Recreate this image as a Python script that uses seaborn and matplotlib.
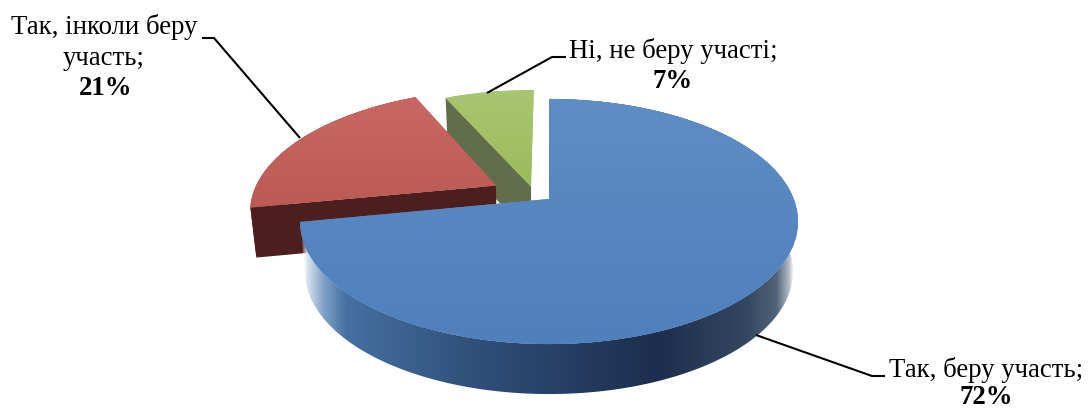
import numpy as np
import matplotlib
matplotlib.use("Agg")
import matplotlib.pyplot as plt
import seaborn as sns
from matplotlib.colors import LinearSegmentedColormap
from matplotlib.patches import Polygon
from matplotlib.transforms import Transform

# ---- data ----
labels = ["Так, беру участь;", "Так, інколи беру участь;", "Ні, не беру участі;"]
values = [72, 21, 7]

# ---- styling ----
flat_colors = ["#5484bf", "#c15e5a", "#9fbf62"]
face_top = ["#5f8dc4", "#c96764", "#a9c671"]
face_bottom = ["#4f80bc", "#bb5a55", "#9bbb59"]
side_colors = ["#2f4f78", "#4c1f1e", "#616d4b"]
blue_wall_stops = [
    (0.000, (1.00, 1.00, 1.00, 0.0)),
    (0.012, (0.85, 0.89, 0.94, 1.0)),
    (0.045, (0.50, 0.63, 0.78, 1.0)),
    (0.090, (0.27, 0.44, 0.63, 1.0)),
    (0.350, (0.19, 0.31, 0.48, 1.0)),
    (0.720, (0.11, 0.18, 0.30, 1.0)),
    (0.900, (0.20, 0.28, 0.38, 1.0)),
    (0.960, (0.32, 0.39, 0.47, 1.0)),
    (0.985, (0.70, 0.74, 0.78, 1.0)),
    (1.000, (1.00, 1.00, 1.00, 0.0)),
]
slice_offsets = [(0.0, 0.0), (-0.2215, 0.116), (-0.075, 0.108)]
CX, CY, AX_, AY_, K = 549.0, 200.0, 244.8, 118.4, 0.1837
DEPTH, SHRINK = 50.0, 0.98
FONT = "Liberation Serif"
FS = 19.3

sns.set_theme(style="white")
plt.rcParams["font.family"] = [FONT, "DejaVu Serif"]


class Perspective(Transform):
    """Tilted-disc projection of pie coordinates onto pixel-like data units."""
    input_dims = output_dims = 2

    def __init__(self, du=0.0, dv=0.0):
        super().__init__()
        self.du, self.dv = du, dv

    def transform_non_affine(self, values):
        p = np.asarray(values, dtype=float)
        u, v = p[:, 0] + self.du, p[:, 1] + self.dv
        w = 1 + K * v
        return np.column_stack([CX + AX_ * u / w, CY - AY_ * v / w])


def lower(pts):
    out = pts.copy()
    out[:, 0] = CX + (out[:, 0] - CX) * SHRINK
    out[:, 1] = out[:, 1] + DEPTH
    return out


fig = plt.figure(figsize=(10.88, 4.10), dpi=100)
ax = fig.add_axes([0, 0, 1, 1])

wedges, _ = ax.pie(values, startangle=90, counterclock=False, colors=flat_colors,
                   wedgeprops=dict(linewidth=0))
ax.set_aspect("auto")
ax.axis("off")

z_side = {0: 6, 1: 3, 2: 1}
z_top = {0: 7, 1: 4, 2: 2}
for i, w in enumerate(wedges):
    proj = Perspective(*slice_offsets[i])
    th = np.radians(np.linspace(w.theta1, w.theta2, 240))
    arc = proj.transform_non_affine(np.column_stack([np.cos(th), np.sin(th)]))
    apex = proj.transform_non_affine(np.array([[0.0, 0.0]]))

    w.set_transform(proj + ax.transData)
    w.set_zorder(z_top[i])

    if i == 0:
        # blue outer wall with its horizontal light-to-dark shading
        wall = Polygon(np.vstack([arc, lower(arc)[::-1]]), closed=True,
                       facecolor="none", edgecolor="none", zorder=z_side[i],
                       transform=ax.transData)
        ax.add_patch(wall)
        x0, x1 = lower(arc)[:, 0].min() - 4, arc[:, 0].max() - 2
        cmap = LinearSegmentedColormap.from_list("wall", blue_wall_stops, N=512)
        img = ax.imshow(np.linspace(0, 1, 512)[None, :], cmap=cmap, aspect="auto",
                        extent=(x0, x1, 410, 0), zorder=z_side[i], interpolation="bilinear")
        img.set_clip_path(wall)
    else:
        # visible cut face of an exploded slice (plus the red slice's rim)
        end = arc[-1:]
        cut = np.vstack([end, apex, lower(apex), lower(end)])
        ax.add_patch(Polygon(cut, closed=True, facecolor=side_colors[i], edgecolor="none",
                             zorder=z_side[i]))
        if i == 1:
            rim = np.vstack([arc, lower(arc)[::-1]])
            ax.add_patch(Polygon(rim, closed=True, facecolor=side_colors[i], edgecolor="none",
                                 zorder=z_side[i]))

    # soft vertical shading on the top face
    outline = np.vstack([arc, apex])
    cm = LinearSegmentedColormap.from_list("f", [face_top[i], face_bottom[i]])
    top = ax.imshow(np.linspace(0, 1, 256)[:, None], cmap=cm, aspect="auto",
                    extent=(outline[:, 0].min() - 3, outline[:, 0].max() + 3,
                            outline[:, 1].max() + 3, outline[:, 1].min() - 3),
                    zorder=z_top[i] + 0.5, interpolation="bilinear")
    top.set_clip_path(w)

ax.set_xlim(0, 1088)
ax.set_ylim(410, 0)

# ---- leader lines ----
line = dict(color="black", lw=1.5, zorder=10, solid_capstyle="butt")
ax.plot([202, 214, 300], [39, 39, 139], **line)
ax.plot([566, 552, 487], [58, 58, 94], **line)
ax.plot([885, 872, 756], [377, 377, 336], **line)

# ---- labels ----
txt = dict(ha="center", va="baseline", color="black", fontsize=FS, family=FONT, zorder=11)
ax.text(104, 34, "Так, інколи беру", **txt)
ax.text(104, 65, "участь;", **txt)
ax.text(106, 95, f"{values[1]}%", fontweight="bold", **txt)
ax.text(673, 58, "Ні, не беру участі;", **txt)
ax.text(673, 88, f"{values[2]}%", fontweight="bold", **txt)
ax.text(986, 377, "Так, беру участь;", **txt)
ax.text(986, 404, f"{values[0]}%", fontweight="bold", **txt)

fig.savefig("out.png", dpi=100, facecolor="white")
